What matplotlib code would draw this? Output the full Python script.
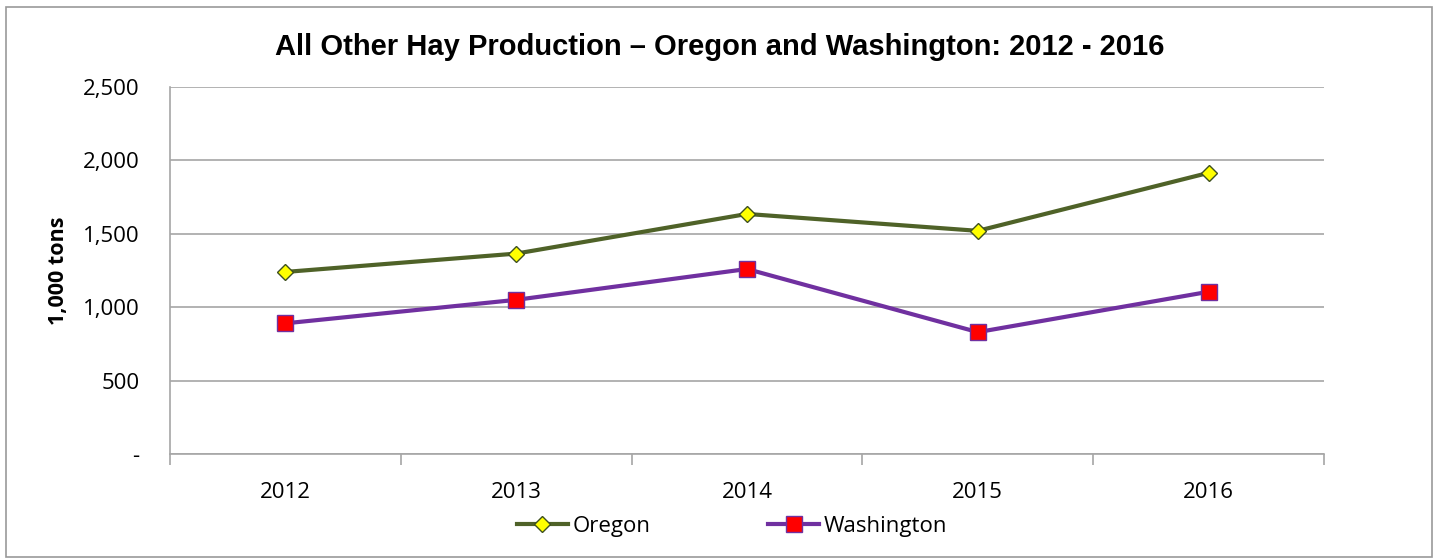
import matplotlib
matplotlib.use("Agg")
import matplotlib.pyplot as plt
from matplotlib.patches import Rectangle
from matplotlib.ticker import FuncFormatter

years = ["2012", "2013", "2014", "2015", "2016"]
oregon = [1240, 1365, 1635, 1520, 1915]
washington = [890, 1050, 1260, 830, 1105]

GRID = "#A6A6A6"


def fmt(v, _):
    if v == 0:
        return "-"
    return f"{int(v):,}"


def main():
    fig = plt.figure(figsize=(14.39, 5.6), dpi=100)
    fig.patches.append(Rectangle((0.004, 0.005), 0.991, 0.982, transform=fig.transFigure,
                                 fill=False, edgecolor="#999999", linewidth=1.2))
    ax = fig.add_axes([0.1181, 0.1893, 0.802, 0.6554])

    x = range(len(years))
    ax.plot(x, oregon, color="#4F6228", linewidth=3, marker="D", markersize=8,
            markerfacecolor="#FFFF00", markeredgecolor="#3E5020", markeredgewidth=1,
            label="Oregon", zorder=3)
    ax.plot(x, washington, color="#7030A0", linewidth=3, marker="s", markersize=11,
            markerfacecolor="#FF0000", markeredgecolor="#7030A0", markeredgewidth=1,
            label="Washington", zorder=3)

    ax.set_xlim(-0.5, len(years) - 0.5)
    ax.set_ylim(0, 2500)
    ax.set_yticks(range(0, 2501, 500))
    ax.yaxis.set_major_formatter(FuncFormatter(fmt))
    ax.set_xticks(x)
    ax.set_xticklabels(years)
    ax.set_xticks([i - 0.5 for i in range(len(years) + 1)], minor=True)

    ax.grid(axis="y", color=GRID, linewidth=1.2)
    ax.set_axisbelow(True)
    for s in ["top", "right"]:
        ax.spines[s].set_visible(False)
    for s in ["left", "bottom"]:
        ax.spines[s].set_color(GRID)
        ax.spines[s].set_linewidth(1.2)

    ax.tick_params(axis="y", length=0, pad=22, labelsize=16)
    ax.tick_params(axis="x", which="major", length=0, pad=20, labelsize=16)
    ax.tick_params(axis="x", which="minor", length=8, color=GRID, width=1.2)
    for lab in ax.get_xticklabels() + ax.get_yticklabels():
        lab.set_fontfamily("Open Sans")

    ax.set_ylabel("1,000 tons", fontsize=15.5, fontweight="bold", family="Open Sans", labelpad=10)

    # title is centred on the whole figure, not on the axes
    fig.text(0.5, 0.916, "All Other Hay Production \u2013 Oregon and Washington: 2012 - 2016",
             ha="center", va="center", fontsize=21, fontweight="bold", family="Liberation Sans")

    ax.legend(loc="upper center", bbox_to_anchor=(0.487, -0.115), ncol=2, frameon=False,
              prop={"family": "Open Sans", "size": 16}, handlelength=2.3,
              handletextpad=0.2, columnspacing=5.3)

    fig.savefig("out.png", dpi=100)
    plt.close(fig)


if __name__ == "__main__":
    main()
